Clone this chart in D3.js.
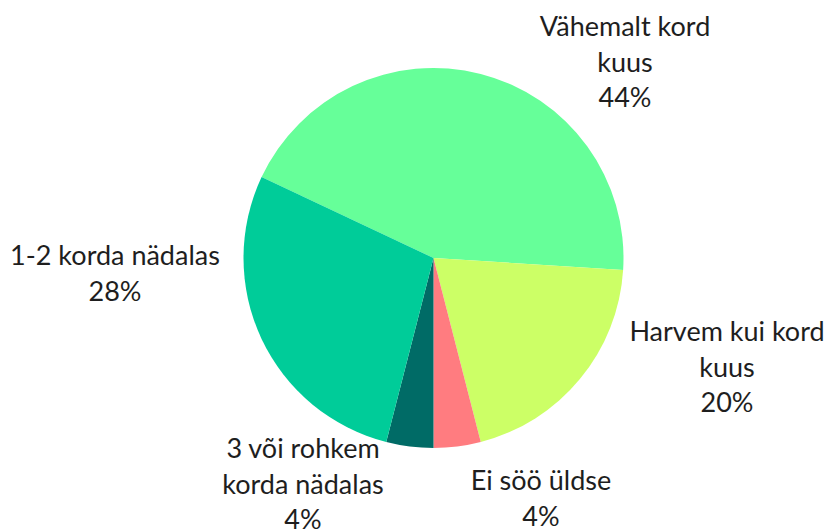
<!DOCTYPE html>
<html>
<head>
<meta charset="utf-8">
<script src="https://cdn.jsdelivr.net/npm/d3@7"></script>
<style>
  body { margin: 0; background: #fff; }
  svg text { font-family: Lato, "Open Sans", sans-serif; fill: #1e1e1e; }
</style>
</head>
<body>
<div id="chart"></div>
<script>
// data
var categories = ["Vähemalt kord kuus", "Harvem kui kord kuus", "Ei söö üldse", "3 või rohkem korda nädalas", "1-2 korda nädalas"];
var values = [44, 20, 4, 4, 28];
var labelLines = [
  ["Vähemalt kord", "kuus", "44%"],
  ["Harvem kui kord", "kuus", "20%"],
  ["Ei söö üldse", "4%"],
  ["3 või rohkem", "korda nädalas", "4%"],
  ["1-2 korda nädalas", "28%"]
];
var colors = ["#66FF99", "#CCFF66", "#FF7C80", "#006B66", "#00CC99"];

// layout
var width = 829, height = 532;
var cx = 433.5, cy = 258, radius = 190;
var startDeg = -64.8;
var fontSize = 27, lineH = 35.5;
// label anchor: center x, first baseline y
var labelPos = [[625, 36], [727, 341], [541, 490], [303, 458], [115, 265]];

var svg = d3.select("#chart").append("svg")
    .attr("width", width)
    .attr("height", height);

var data = categories.map(function(c, i) { return {name: c, value: values[i], i: i}; });

var pie = d3.pie()
    .sort(null)
    .value(function(d) { return d.value; })
    .startAngle(startDeg * Math.PI / 180)
    .endAngle(startDeg * Math.PI / 180 + 2 * Math.PI);

var arc = d3.arc().innerRadius(0).outerRadius(radius);

var g = svg.append("g")
    .attr("transform", "translate(" + cx + "," + cy + ")");

g.selectAll("path")
    .data(pie(data))
    .enter().append("path")
    .attr("d", arc)
    .attr("fill", function(d) { return colors[d.data.i]; });

var labels = svg.selectAll(".lbl")
    .data(data)
    .enter().append("text")
    .attr("class", "lbl")
    .attr("text-anchor", "middle")
    .style("font-size", fontSize + "px");

labels.each(function(d) {
  var t = d3.select(this);
  var p = labelPos[d.i];
  labelLines[d.i].forEach(function(line, k) {
    t.append("tspan")
      .attr("x", p[0])
      .attr("y", p[1] + k * lineH)
      .text(line);
  });
});
</script>
</body>
</html>
